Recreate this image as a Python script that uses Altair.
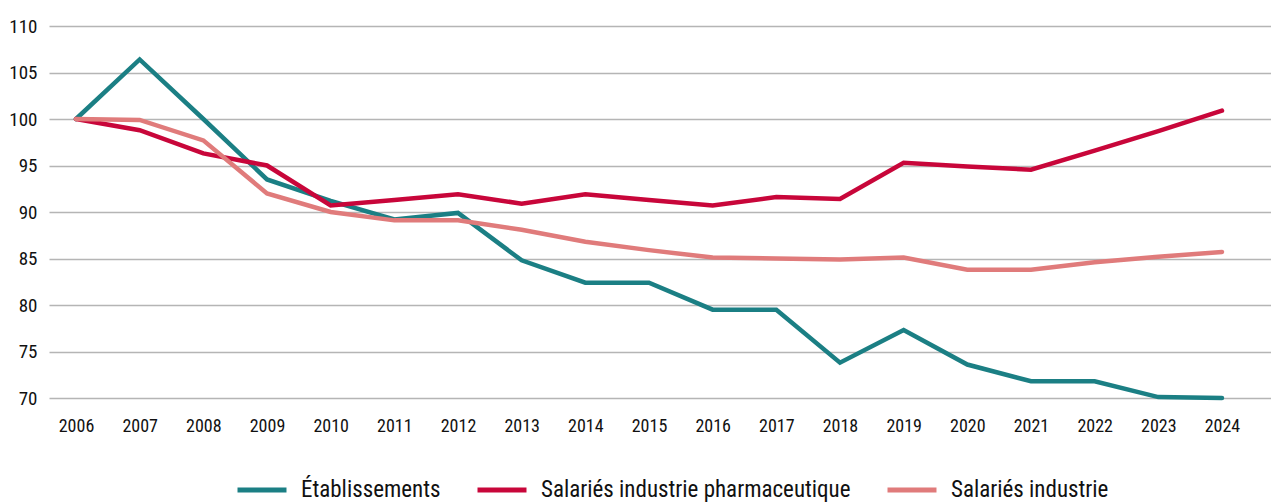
import altair as alt
import pandas as pd

years = list(range(2006, 2025))
etablissements = [100, 106.4, 100, 93.5, 91.2, 89.2, 89.9, 84.8, 82.4, 82.4, 79.5, 79.5,
                  73.8, 77.3, 73.6, 71.8, 71.8, 70.1, 70.0]
pharma = [100, 98.8, 96.3, 95.0, 90.7, 91.3, 91.9, 90.9, 91.9, 91.3, 90.7, 91.6,
          91.4, 95.3, 94.9, 94.55, 96.6, 98.7, 100.9]
industrie = [100, 99.9, 97.7, 92.0, 90.0, 89.1, 89.1, 88.1, 86.8, 85.9, 85.1, 85.0,
             84.9, 85.1, 83.8, 83.8, 84.6, 85.2, 85.7]

series_names = ["Établissements", "Salariés industrie pharmaceutique", "Salariés industrie"]
series_colors = ["#1b7f84", "#c8063a", "#e07b7b"]

rows = []
for name, vals in zip(series_names, [etablissements, pharma, industrie]):
    for y, v in zip(years, vals):
        rows.append({"annee": y, "valeur": v, "serie": name})
df = pd.DataFrame(rows)

FONT = "Roboto Condensed, Liberation Sans Narrow, DejaVu Sans Condensed, sans-serif"

chart = alt.Chart(df).mark_line(strokeWidth=4.5, strokeCap="round").encode(
    x=alt.X("annee:Q",
            scale=alt.Scale(domain=[2005.576, 2024.77], nice=False, zero=False),
            axis=alt.Axis(values=years, format="d", title=None, grid=False, domain=False,
                          ticks=False, labelFontSize=18, labelPadding=19,
                          labelColor="#111111", labelFont=FONT)),
    y=alt.Y("valeur:Q",
            scale=alt.Scale(domain=[70, 110], nice=False, zero=False),
            axis=alt.Axis(values=list(range(70, 111, 5)), title=None, domain=False,
                          ticks=False, labelFontSize=19, labelPadding=12,
                          labelColor="#111111", labelFont=FONT,
                          gridColor="#b5b5b5", gridWidth=1.6)),
    color=alt.Color("serie:N",
                    scale=alt.Scale(domain=series_names, range=series_colors),
                    sort=series_names,
                    legend=alt.Legend(title=None, orient="none", direction="horizontal",
                                      legendX=186, legendY=437, padding=0,
                                      symbolType="stroke", symbolStrokeWidth=5,
                                      symbolSize=2400, labelFontSize=23, labelFont=FONT,
                                      labelColor="#111111", columnPadding=26,
                                      labelOffset=12, labelLimit=600)),
    order=alt.Order("annee:Q"),
).properties(
    width=1222,
    height=372,
    autosize=alt.AutoSizeParams(type="none"),
    padding={"left": 41, "top": 18, "right": 0, "bottom": 105},
).configure_view(stroke=None)

chart.save("out.html", embed_options={"renderer": "svg", "actions": False})
